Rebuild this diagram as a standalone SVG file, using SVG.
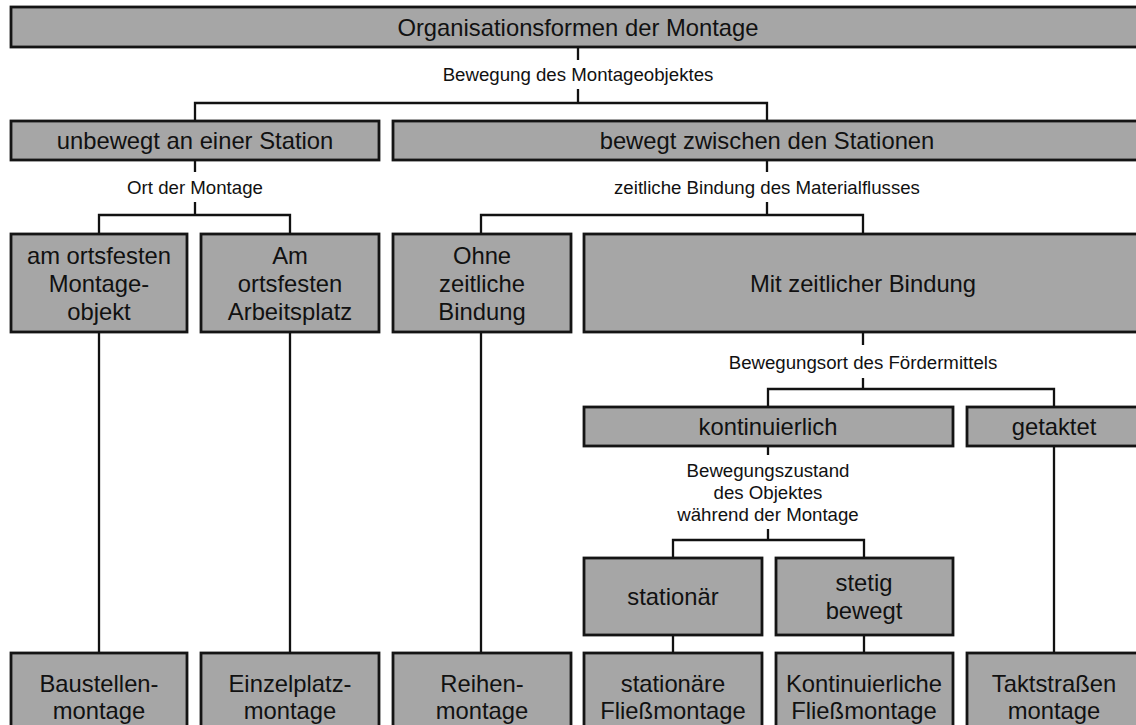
<svg xmlns="http://www.w3.org/2000/svg" width="1136" height="725" viewBox="0 0 1136 725">
  <style>
    .box { fill: #a6a6a6; stroke: #141414; stroke-width: 2.8; }
    .t { font-family: "Liberation Sans", Arial, sans-serif; font-size: 23.8px; fill: #111; text-anchor: middle; }
    .lbl { font-family: "Liberation Sans", Arial, sans-serif; font-size: 18.67px; fill: #111; text-anchor: middle; }
    .ln { fill: none; stroke: #111; stroke-width: 2.3; }
  </style>
  <rect width="1136" height="725" fill="#fff"/>

  <!-- connectors -->
  <g id="connectors" class="ln">
    <path d="M578 47 V60 M578 89 V103 M195 121 V103 H767 V121"/>
    <path d="M195 160 V172 M195 202 V215 M99 234 V215 H290 V234"/>
    <path d="M767 160 V172 M767 202 V215 M481 234 V215 H863 V234"/>
    <path d="M863 332 V345 M863 378 V389 M768 407 V389 H1054 V407"/>
    <path d="M768 446 V455 M768 529 V540 M673 558 V540 H864 V558"/>
    <path d="M99 332 V653 M290 332 V653 M481 332 V653"/>
    <path d="M673 635 V653 M864 635 V653 M1054 446 V653"/>
  </g>

  <!-- connector labels -->
  <g id="labels">
    <text class="lbl" x="578" y="81">Bewegung des Montageobjektes</text>
    <text class="lbl" x="195" y="194">Ort der Montage</text>
    <text class="lbl" x="767" y="194">zeitliche Bindung des Materialflusses</text>
    <text class="lbl" x="863" y="369">Bewegungsort des Fördermittels</text>
    <text class="lbl" x="768" y="477">Bewegungszustand</text>
    <text class="lbl" x="768" y="499">des Objektes</text>
    <text class="lbl" x="768" y="521">während der Montage</text>
  </g>

  <g id="root">
    <rect class="box" x="11" y="7" width="1134" height="40"/>
    <text class="t" x="578" y="36">Organisationsformen der Montage</text>
  </g>

  <g id="unbewegt">
    <rect class="box" x="11" y="121" width="368" height="39"/>
    <text class="t" x="195" y="149">unbewegt an einer Station</text>
  </g>
  <g id="bewegt">
    <rect class="box" x="393" y="121" width="750" height="39"/>
    <text class="t" x="767" y="149">bewegt zwischen den Stationen</text>
  </g>

  <g id="ortsfest-objekt">
    <rect class="box" x="11" y="234" width="176" height="98"/>
    <text class="t" x="99" y="264">am ortsfesten</text>
    <text class="t" x="99" y="292">Montage-</text>
    <text class="t" x="99" y="320">objekt</text>
  </g>
  <g id="ortsfest-platz">
    <rect class="box" x="201" y="234" width="178" height="98"/>
    <text class="t" x="290" y="264">Am</text>
    <text class="t" x="290" y="292">ortsfesten</text>
    <text class="t" x="290" y="320">Arbeitsplatz</text>
  </g>
  <g id="ohne-bindung">
    <rect class="box" x="393" y="234" width="178" height="98"/>
    <text class="t" x="482" y="264">Ohne</text>
    <text class="t" x="482" y="292">zeitliche</text>
    <text class="t" x="482" y="320">Bindung</text>
  </g>
  <g id="mit-bindung">
    <rect class="box" x="584" y="234" width="558" height="98"/>
    <text class="t" x="863" y="292">Mit zeitlicher Bindung</text>
  </g>

  <g id="kontinuierlich">
    <rect class="box" x="584" y="407" width="369" height="39"/>
    <text class="t" x="768" y="435">kontinuierlich</text>
  </g>
  <g id="getaktet">
    <rect class="box" x="967" y="407" width="174" height="39"/>
    <text class="t" x="1054" y="435">getaktet</text>
  </g>

  <g id="stationaer">
    <rect class="box" x="584" y="558" width="178" height="77"/>
    <text class="t" x="673" y="605">stationär</text>
  </g>
  <g id="stetig">
    <rect class="box" x="776" y="558" width="177" height="77"/>
    <text class="t" x="864" y="591">stetig</text>
    <text class="t" x="864" y="619">bewegt</text>
  </g>

  <g id="baustellen">
    <rect class="box" x="11" y="653" width="176" height="90"/>
    <text class="t" x="99" y="692">Baustellen-</text>
    <text class="t" x="99" y="719">montage</text>
  </g>
  <g id="einzelplatz">
    <rect class="box" x="201" y="653" width="178" height="90"/>
    <text class="t" x="290" y="692">Einzelplatz-</text>
    <text class="t" x="290" y="719">montage</text>
  </g>
  <g id="reihen">
    <rect class="box" x="393" y="653" width="178" height="90"/>
    <text class="t" x="482" y="692">Reihen-</text>
    <text class="t" x="482" y="719">montage</text>
  </g>
  <g id="stationaere-fliess">
    <rect class="box" x="584" y="653" width="178" height="90"/>
    <text class="t" x="673" y="692">stationäre</text>
    <text class="t" x="673" y="719">Fließmontage</text>
  </g>
  <g id="kontinuierliche-fliess">
    <rect class="box" x="776" y="653" width="177" height="90"/>
    <text class="t" x="864" y="692">Kontinuierliche</text>
    <text class="t" x="864" y="719">Fließmontage</text>
  </g>
  <g id="taktstrassen">
    <rect class="box" x="967" y="653" width="174" height="90"/>
    <text class="t" x="1054" y="692">Taktstraßen</text>
    <text class="t" x="1054" y="719">montage</text>
  </g>
</svg>
